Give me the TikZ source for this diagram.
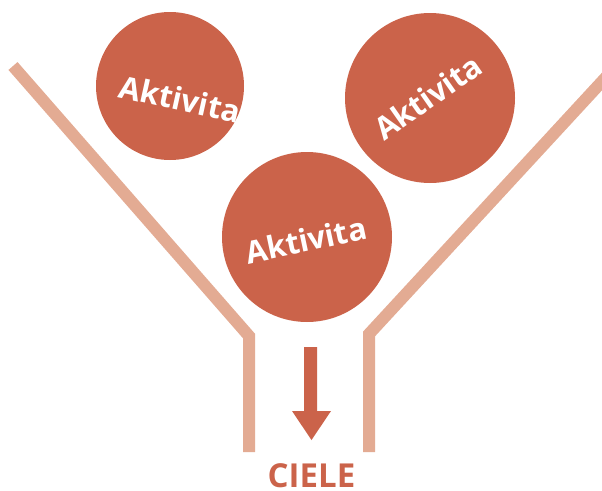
\documentclass[tikz,border=0pt]{standalone}
\usepackage{fontspec}
\setmainfont{Open Sans}
\definecolor{actfill}{HTML}{CB634A}
\definecolor{funnelc}{HTML}{E3AB93}
\begin{document}
\begin{tikzpicture}[x=1pt,y=-1pt,
  funnelwall/.style={draw=funnelc,line width=12pt,miter limit=10,line join=miter},
  activity/.style={circle,fill=actfill,inner sep=0pt,minimum size=#1},
  actlabel/.style={text=white,font=\fontsize{31}{33}\selectfont\bfseries,inner sep=0pt},
  goal/.style={text=actfill,font=\fontsize{33}{35}\selectfont\bfseries,inner sep=0pt}]
\useasboundingbox (0,0) rectangle (602,490);
\clip (0,0) rectangle (602,490);

% funnel walls
\coordinate (lt) at (13,66);
\coordinate (lb) at (249,336);
\coordinate (le) at (249,452);
\coordinate (rt) at (620,62);
\coordinate (rb) at (369,334);
\coordinate (re) at (369,452);
\draw[funnelwall] (lt) -- (lb) -- (le);
\draw[funnelwall] (rt) -- (rb) -- (re);

% activities
\node[activity=148pt] (a1) at (170,86) {};
\node[activity=170pt] (a2) at (430,98) {};
\node[activity=170pt] (a3) at (307,237) {};
\node[actlabel,rotate=-12.5] (t1) at (180,99) {Aktivita};
\node[actlabel,rotate=35] (t2) at (428,97) {Aktivita};
\node[actlabel,rotate=12] (t3) at (306,240) {Aktivita};

% downward arrow
\fill[actfill] (304,347) -- (317,347) -- (317,411) -- (331,411)
  -- (311.5,440) -- (292,411) -- (304,411) -- cycle;

% goal label
\node[goal,anchor=base] (goal) at (311.5,487) {CIELE};
\end{tikzpicture}
\end{document}
